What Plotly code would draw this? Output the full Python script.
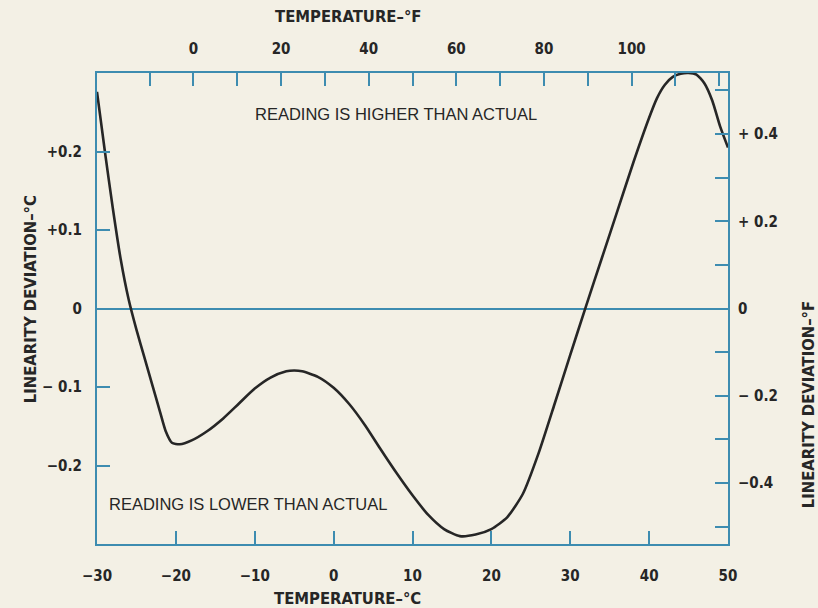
import plotly.graph_objects as go

# Temperature (degC) and linearity deviation (degC) of the sensor curve
temp_c = [-30, -29, -28, -27, -26, -25, -24, -23, -22, -21.3,
          -20.5, -19.5, -18, -16, -14, -12, -10, -8, -6, -5,
          -4, -2, 0, 2, 4, 6, 8, 10, 12, 14,
          16, 18, 20, 22, 24, 26, 28, 30, 32, 34,
          36, 38, 40, 41, 42, 43, 44, 45, 46, 47,
          48, 49, 50]
deviation_c = [0.276, 0.200, 0.128, 0.063, 0.012, -0.027, -0.062, -0.097, -0.132, -0.156,
               -0.171, -0.173, -0.168, -0.156, -0.140, -0.121, -0.102, -0.088, -0.080, -0.079,
               -0.080, -0.087, -0.101, -0.122, -0.149, -0.180, -0.210, -0.238, -0.263, -0.281,
               -0.290, -0.288, -0.281, -0.266, -0.236, -0.184, -0.122, -0.059, 0.003, 0.064,
               0.125, 0.186, 0.243, 0.268, 0.285, 0.295, 0.299, 0.300, 0.298, 0.287,
               0.265, 0.232, 0.205]

# Axis ticks
c_ticks = [-30, -20, -10, 0, 10, 20, 30, 40, 50]
c_labels = ["\u221230", "\u221220", "\u221210", "0", "10", "20", "30", "40", "50"]
f_ticks = [-10, 0, 10, 20, 30, 40, 50, 60, 70, 80, 90, 100, 110, 120]
f_labels = ["", "0", "", "20", "", "40", "", "60", "", "80", "", "100", "", ""]
dev_c_ticks = [-0.2, -0.1, 0, 0.1, 0.2]
dev_c_labels = ["\u22120.2", "\u2212 0.1", "0", "+0.1", "+0.2"]
dev_f_ticks = [-0.5, -0.4, -0.3, -0.2, -0.1, 0, 0.1, 0.2, 0.3, 0.4, 0.5]
dev_f_labels = ["", "\u22120.4", "", "\u2212 0.2", "", "0", "", "+ 0.2", "", "+ 0.4", ""]

C_RANGE = [-30, 50]
DEV_RANGE = [-0.3, 0.3]

def c_to_f(t):
    return t * 1.8 + 32

AXIS = "#3d8cb0"
INK = "#262626"
BG = "#f3f0e5"
NARROW = "DejaVu Sans Condensed, DejaVu Sans, sans-serif"
PLAIN = "Liberation Sans, Arial, sans-serif"

fig = go.Figure()
fig.add_trace(go.Scatter(
    x=temp_c, y=deviation_c, mode="lines",
    line=dict(color=INK, width=2.6, shape="spline", smoothing=0.6),
    hoverinfo="skip", showlegend=False,
))
# invisible trace to activate the secondary axes
fig.add_trace(go.Scatter(x=[c_to_f(C_RANGE[0])], y=[0], xaxis="x2", yaxis="y2",
                         mode="markers", marker=dict(opacity=0), showlegend=False,
                         hoverinfo="skip"))

tickfont = dict(family=NARROW, size=15, color=INK, weight="bold")
common = dict(showgrid=False, showline=True, linecolor=AXIS, linewidth=2,
              ticks="inside", tickcolor=AXIS, tickwidth=2, ticklen=13,
              tickfont=tickfont, fixedrange=True)

fig.update_layout(
    width=818, height=608,
    margin=dict(l=97, r=90, t=73, b=64),
    paper_bgcolor=BG, plot_bgcolor=BG,
    xaxis=dict(range=C_RANGE, tickvals=c_ticks, ticktext=c_labels,
               zeroline=False, ticklabelstandoff=17, **common),
    xaxis2=dict(range=[c_to_f(C_RANGE[0]), c_to_f(C_RANGE[1])], overlaying="x",
                side="top", tickvals=f_ticks, ticktext=f_labels,
                zeroline=False, ticklabelstandoff=11, **common),
    yaxis=dict(range=DEV_RANGE, tickvals=dev_c_ticks, ticktext=dev_c_labels,
               zeroline=True, zerolinecolor=AXIS, zerolinewidth=1.6,
               ticklabelstandoff=10, **common),
    yaxis2=dict(range=[DEV_RANGE[0] * 1.8, DEV_RANGE[1] * 1.8], overlaying="y",
                side="right", tickvals=dev_f_ticks, ticktext=dev_f_labels,
                zeroline=False, ticklabelstandoff=5, **common),
)

title_font = dict(family=NARROW, size=16.5, color=INK, weight="bold")
note_font = dict(family=PLAIN, size=16.5, color=INK)

def paper_note(text, x, y, angle=0):
    fig.add_annotation(text=text, xref="paper", yref="paper", x=x, y=y,
                       xanchor="center", yanchor="middle", textangle=angle,
                       showarrow=False, font=title_font)

paper_note("TEMPERATURE\u2013\u00b0F", 0.398, 1.119)
paper_note("TEMPERATURE\u2013\u00b0C", 0.397, -0.115)
paper_note("LINEARITY DEVIATION\u2013\u00b0C", -0.106, 0.52, -90)
paper_note("LINEARITY DEVIATION\u2013\u00b0F", 1.127, 0.295, -90)

fig.add_annotation(text="READING IS HIGHER THAN ACTUAL", x=7.9, y=0.248,
                   xanchor="center", yanchor="middle", showarrow=False, font=note_font)
fig.add_annotation(text="READING IS LOWER THAN ACTUAL", x=-28.7, y=-0.249,
                   xanchor="left", yanchor="middle", showarrow=False, font=note_font)

fig.write_html("out.html")
